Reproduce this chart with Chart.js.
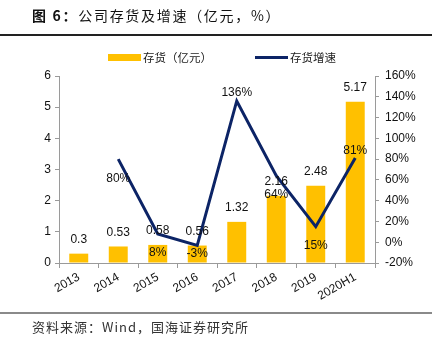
<!DOCTYPE html>
<html lang="zh">
<head>
  <meta charset="UTF-8">
  <title>公司存货及增速</title>
  <style>
    html, body { margin: 0; padding: 0; background: #fff; }
    #wrap { position: relative; width: 440px; height: 339px; overflow: hidden; }
    #chart { position: absolute; left: 0; top: 0; }
    .title {
      position: absolute; left: 32px; top: 5px;
      font-family: 'Noto Sans CJK SC', sans-serif; font-size: 14px;
      letter-spacing: 1.7px; color: #111; white-space: nowrap; line-height: 20px;
    }
    .title b { font-weight: 700; }
    .rule-top { position: absolute; left: 0; top: 34px; width: 432px; height: 1.5px; background: #222; }
    .rule-bottom { position: absolute; left: 0; top: 312px; width: 432px; height: 1.5px; background: #8a8a8a; }
    .source {
      position: absolute; left: 32px; top: 318px;
      font-family: 'Noto Sans CJK SC', sans-serif; font-size: 13px;
      letter-spacing: 1px; color: #333; white-space: nowrap; line-height: 18px;
    }
  </style>
</head>
<body>
  <div id="wrap">
    <canvas id="chart" width="440" height="339"></canvas>
    <div class="title"><b>图 6：</b>公司存货及增速（亿元，%）</div>
    <div class="rule-top"></div>
    <div class="rule-bottom"></div>
    <div class="source">资料来源：Wind，国海证券研究所</div>
  </div>

  <script src="https://cdn.jsdelivr.net/npm/chart.js"></script>
  <script>
    // data
    const years = ['2013', '2014', '2015', '2016', '2017', '2018', '2019', '2020H1'];
    const inventory = [0.3, 0.53, 0.58, 0.56, 1.32, 2.16, 2.48, 5.17];   // 亿元
    const growth = [null, 80, 8, -3, 136, 64, 15, 81];                   // %
    const seriesNames = ['存货（亿元）', '存货增速'];

    const barColor = '#FFC000';
    const lineColor = '#0C2466';
    const axisColor = '#9a9a9a';

    Chart.defaults.font.family = "'Liberation Sans', Arial, sans-serif";
    Chart.defaults.font.size = 12;
    Chart.defaults.color = '#222';

    // value labels + legend, drawn on top of the marks
    const labelPlugin = {
      id: 'labels',
      afterDatasetsDraw(chart) {
        const ctx = chart.ctx;
        ctx.save();
        ctx.font = "12px 'Liberation Sans', Arial, sans-serif";
        ctx.fillStyle = '#111';
        ctx.textAlign = 'center';
        ctx.textBaseline = 'middle';

        chart.getDatasetMeta(0).data.forEach((bar, i) => {
          ctx.fillText(String(inventory[i]), bar.x, bar.y - 14);
        });

        // Excel-like placement: most labels under the point, two above
        const dy = [0, 20, 19, 8, -8, 19, 19, -7];
        chart.getDatasetMeta(1).data.forEach((pt, i) => {
          if (growth[i] === null) return;
          ctx.fillText(growth[i] + '%', pt.x, pt.y + dy[i]);
        });

        // legend
        ctx.font = "11.5px 'Noto Sans CJK SC', sans-serif";
        ctx.textAlign = 'left';
        ctx.fillStyle = barColor;
        ctx.fillRect(108, 54, 33, 7);
        ctx.fillStyle = '#222';
        ctx.fillText(seriesNames[0], 143, 58);
        ctx.strokeStyle = lineColor;
        ctx.lineWidth = 3;
        ctx.beginPath();
        ctx.moveTo(255, 57.5);
        ctx.lineTo(288, 57.5);
        ctx.stroke();
        ctx.fillText(seriesNames[1], 290, 58);
        ctx.restore();
      }
    };

    new Chart(document.getElementById('chart'), {
      data: {
        labels: years,
        datasets: [
          {
            type: 'bar',
            label: seriesNames[0],
            data: inventory,
            yAxisID: 'y',
            backgroundColor: barColor,
            barPercentage: 0.48,
            categoryPercentage: 1,
            order: 1
          },
          {
            type: 'line',
            label: seriesNames[1],
            data: growth,
            yAxisID: 'y1',
            borderColor: lineColor,
            backgroundColor: lineColor,
            borderWidth: 3,
            pointRadius: 0,
            tension: 0,
            order: 0
          }
        ]
      },
      options: {
        responsive: false,
        animation: false,
        layout: { padding: { top: 76, left: 0, right: 0, bottom: 0 } },
        plugins: {
          legend: { display: false },
          tooltip: { enabled: false }
        },
        scales: {
          x: {
            offset: true,
            grid: { offset: true, drawOnChartArea: false, tickLength: 5, color: axisColor },
            border: { color: axisColor },
            ticks: { minRotation: 30, maxRotation: 30, padding: 2, color: '#111' },
            afterFit: (s) => { s.height = 76; }
          },
          y: {
            position: 'left',
            min: 0, max: 6,
            ticks: { stepSize: 1, padding: 4, color: '#111' },
            grid: { drawOnChartArea: false, tickLength: 4, color: axisColor },
            border: { color: axisColor },
            afterFit: (s) => { s.width = 59; }
          },
          y1: {
            position: 'right',
            min: -20, max: 160,
            ticks: { stepSize: 20, padding: 6, color: '#111', callback: (v) => v + '%' },
            grid: { drawOnChartArea: false, tickLength: 4, color: axisColor },
            border: { color: axisColor },
            afterFit: (s) => { s.width = 65; }
          }
        }
      },
      plugins: [labelPlugin]
    });
  </script>
</body>
</html>
